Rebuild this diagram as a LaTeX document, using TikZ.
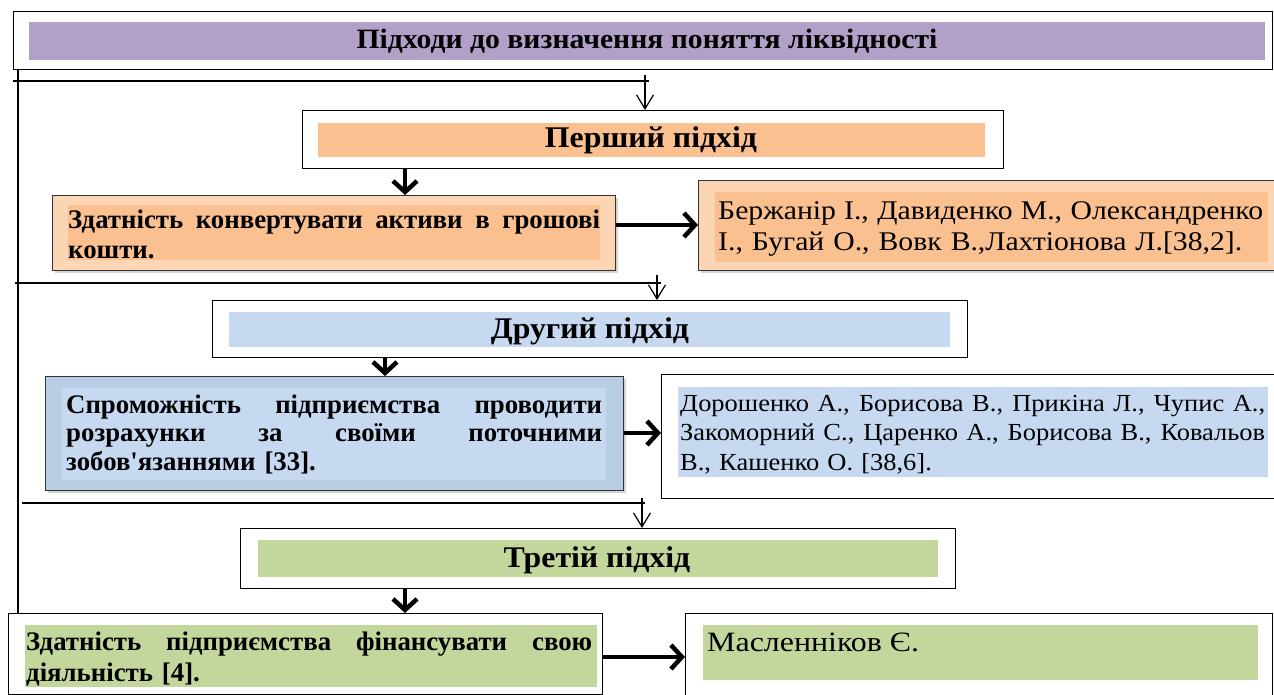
\documentclass[tikz,border=0pt]{standalone}
\usepackage{fontspec}
\setmainfont{Liberation Serif}
\newfontfamily\wideA[FakeStretch=1.1]{Liberation Serif}
\newfontfamily\wideB[FakeStretch=1.08]{Liberation Serif}
\newfontfamily\wideC[FakeStretch=1.14]{Liberation Serif}
\newfontfamily\wideH[FakeStretch=1.06]{Liberation Serif}
\usetikzlibrary{arrows.meta,shadows}
\definecolor{purp}{HTML}{B1A0C7}
\definecolor{orD}{HTML}{FAC090}
\definecolor{orL}{HTML}{FCD5B5}
\definecolor{blL}{HTML}{C6D9F1}
\definecolor{blM}{HTML}{B9CDE5}
\definecolor{grn}{HTML}{C3D69B}
\newcommand{\jl}[2]{\leavevmode\hbox to #1{\spaceskip=0.25em plus 1fil\relax #2}}
\tikzset{
  obox/.style={draw=black,line width=1.3pt,fill=white,anchor=north west,inner sep=0pt},
  sbox/.style={obox,draw=black!80,drop shadow={shadow xshift=2pt,shadow yshift=-2pt,opacity=0.35}},
  hl/.style={anchor=north west,inner sep=0pt,draw=none},
  headtxt/.style={font=\wideH\bfseries\fontsize{30}{32}\selectfont},
  bodyb/.style={font=\bfseries\fontsize{26.8}{30}\selectfont,anchor=base west,inner sep=0pt,align=left},
  bodyr/.style={font=\wideA\fontsize{27}{30}\selectfont,anchor=base west,inner sep=0pt,align=left},
  thinarr/.style={line width=1.2pt,-{Straight Barb[length=14pt,width=17pt]}},
  thickarr/.style={line width=4.5pt,-{Straight Barb[length=11pt,width=24pt]}},
  hline/.style={line width=2pt}
}
\begin{document}
\begin{tikzpicture}[x=1pt,y=-1pt]
\useasboundingbox (0,0) rectangle (1274,695);
\clip (0,0) rectangle (1274,695);
% title
\node[obox,minimum width=1259pt,minimum height=58pt] (title) at (13,11) {};
\node[hl,fill=purp,minimum width=1236pt,minimum height=38pt] (titlebg) at (29,22) {};
\node[font=\wideH\bfseries\fontsize{28}{30}\selectfont] (titlet) at (647,41) {Підходи до визначення поняття ліквідності};
% first approach
\node[obox,minimum width=701pt,minimum height=58pt] (h1) at (302,110) {};
\node[hl,fill=orD,minimum width=667pt,minimum height=34pt] (h1bg) at (318,123) {};
\node[headtxt] (h1t) at (651,140) {Перший підхід};
\node[sbox,fill=orL,minimum width=563pt,minimum height=75pt] (l1) at (52,195) {};
\node[hl,fill=orD,minimum width=532pt,minimum height=55pt] (l1bg) at (68,205) {};
\node[bodyb,text width=532pt] (l1t) at (68,229) {\jl{532pt}{Здатність конвертувати активи в грошові}\\кошти.};
\node[sbox,fill=orL,minimum width=580pt,minimum height=90pt] (r1) at (698,180) {};
\node[hl,fill=orD,minimum width=553pt,minimum height=70pt] (r1bg) at (715,192) {};
\node[bodyr,text width=548pt] (r1t) at (718,220) {\jl{545pt}{Бержанір І., Давиденко М., Олександренко}\\І., Бугай О., Вовк В.,Лахтіонова Л.[38,2].};
% second approach
\node[obox,minimum width=755pt,minimum height=57pt] (h2) at (212,300) {};
\node[hl,fill=blL,minimum width=721pt,minimum height=35pt] (h2bg) at (229,312) {};
\node[headtxt] (h2t) at (590,331) {Другий підхід};
\node[sbox,fill=blM,minimum width=578pt,minimum height=114pt] (l2) at (45,376) {};
\node[hl,fill=blL,minimum width=544pt,minimum height=92pt] (l2bg) at (62,388) {};
\node[bodyb,text width=536pt,font=\bfseries\fontsize{26.8}{28.5}\selectfont] (l2t) at (66,413) {\jl{536pt}{Спроможність підприємства проводити}\\\jl{536pt}{розрахунки за своїми поточними}\\зобов\textquotesingle язаннями [33].};
\node[obox,minimum width=615pt,minimum height=124pt] (r2) at (661,374) {};
\node[hl,fill=blL,minimum width=590pt,minimum height=90pt] (r2bg) at (678,387) {};
\node[bodyr,text width=585pt,font=\wideB\fontsize{24.5}{29.5}\selectfont] (r2t) at (680,411) {\jl{585pt}{Дорошенко А., Борисова В., Прикіна Л., Чупис А.,}\\\jl{585pt}{Закоморний С., Царенко А., Борисова В., Ковальов}\\В., Кашенко О. [38,6].};
% third approach
\node[obox,minimum width=715pt,minimum height=60pt] (h3) at (240,528) {};
\node[hl,fill=grn,minimum width=680pt,minimum height=37pt] (h3bg) at (258,540) {};
\node[headtxt] (h3t) at (597,560) {Третій підхід};
\node[obox,minimum width=594pt,minimum height=81pt] (l3) at (8,613) {};
\node[hl,fill=grn,minimum width=572pt,minimum height=62pt] (l3bg) at (25,625) {};
\node[bodyb,text width=566pt,font=\bfseries\fontsize{26.8}{31}\selectfont] (l3t) at (26,650) {\jl{566pt}{Здатність підприємства фінансувати свою}\\діяльність [4].};
\node[obox,minimum width=587pt,minimum height=90pt] (r3) at (685,613) {};
\node[hl,fill=grn,minimum width=555pt,minimum height=55pt] (r3bg) at (703,625) {};
\node[bodyr,font=\wideC\fontsize{28}{30}\selectfont] (r3t) at (707,651) {Масленніков Є.};
% left spine and horizontal lines
\coordinate (sp) at (18,69);
\draw[line width=1.5pt] (sp) -- (sp |- l3.north);
\coordinate (ha) at (13,81);
\coordinate (hb) at (649,81);
\draw[hline] (ha) -- (hb);
\coordinate (va) at (645,75);
\draw[thinarr] (va) -- (va |- h1.north);
\coordinate (hc) at (15,283);
\coordinate (hd) at (661,283);
\draw[hline] (hc) -- (hd);
\coordinate (vb) at (657,275);
\draw[thinarr] (vb) -- (vb |- h2.north);
\coordinate (he) at (22,503);
\coordinate (hf) at (645,503);
\draw[hline] (he) -- (hf);
\coordinate (vc) at (642,498);
\draw[thinarr] (vc) -- (vc |- h3.north);
% thick arrows
\coordinate (ta) at (405,0);
\draw[thickarr] (ta |- h1.south) -- (ta |- l1.north);
\coordinate (tb) at (0,225);
\draw[thickarr] (tb -| l1.east) -- (tb -| r1.west);
\coordinate (tc) at (385,0);
\draw[thickarr] (tc |- h2.south) -- (tc |- l2.north);
\coordinate (td) at (0,433);
\draw[thickarr] (td -| l2.east) -- (td -| r2.west);
\coordinate (te) at (405,0);
\draw[thickarr] (te |- h3.south) -- (te |- l3.north);
\coordinate (tf) at (0,657);
\draw[thickarr] (tf -| l3.east) -- (tf -| r3.west);
\end{tikzpicture}
\end{document}
